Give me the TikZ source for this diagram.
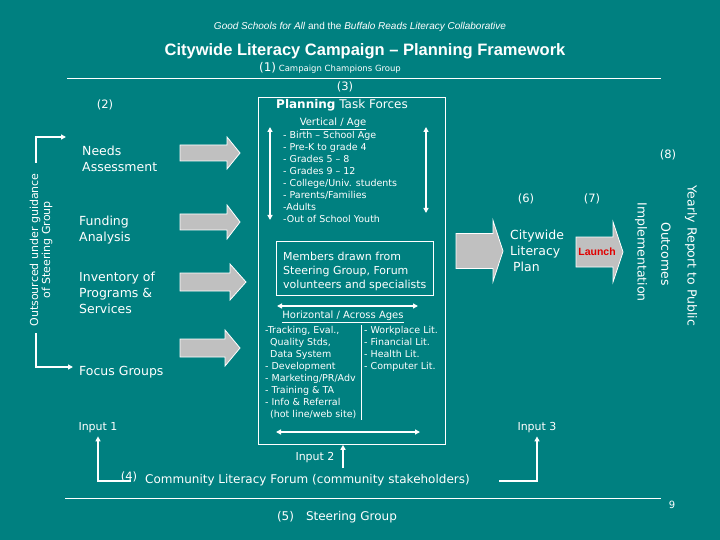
\documentclass[tikz,border=0pt]{standalone}
\usepackage{fontspec}
\setmainfont{DejaVu Sans}
\newfontfamily\arialfont{Liberation Sans}
\usetikzlibrary{arrows.meta}
\definecolor{slideteal}{RGB}{0,128,128}
\definecolor{blockgrey}{RGB}{192,192,192}
\definecolor{launchred}{RGB}{225,0,0}

% block arrow: tail x, head base x, tip x, centre y, body half, head half
\newcommand{\blockarrow}[6]{%
  \filldraw[fill=blockgrey, draw=white, line width=0.8pt]
    (#1,#4-#5) -- (#2,#4-#5) -- (#2,#4-#6) -- (#3,#4) -- (#2,#4+#6)
    -- (#2,#4+#5) -- (#1,#4+#5) -- cycle;}

\begin{document}
\begin{tikzpicture}[
    x=1pt, y=-1pt,
    >={Triangle[length=5pt, width=5pt]},
    txt/.style={text=white, inner sep=0pt},
    biglbl/.style={txt, font=\fontsize{12.5}{16}\selectfont, align=left},
    numlbl/.style={txt, font=\fontsize{11.5}{14}\selectfont},
    listlbl/.style={txt, font=\fontsize{9.5}{12}\selectfont, align=left, anchor=north west},
    wline/.style={white, line width=1.6pt},
    thinline/.style={white, line width=0.8pt}
]

% Background
\fill[slideteal] (0,0) rectangle (720,540);
\useasboundingbox (0,0) rectangle (720,540);

% Header
\node[txt, font=\arialfont\fontsize{10}{12}\selectfont] (sub) at (360,27)
  {\textit{Good Schools for All} and the \textit{Buffalo Reads Literacy Collaborative}};
\node[txt, font=\arialfont\bfseries\fontsize{16.5}{19}\selectfont] (title) at (365,51)
  {Citywide Literacy Campaign – Planning Framework};
\node[txt, font=\fontsize{8.5}{11}\selectfont] (champ) at (330,68)
  {{\fontsize{12}{14}\selectfont(1)} Campaign Champions Group};
\draw[thinline] (67,78) -- (661,78);

% Planning task forces box
\node[numlbl] (n3) at (345,87) {(3)};
\node[draw=white, line width=0.8pt, minimum width=187pt, minimum height=347pt,
      anchor=north west, inner sep=0pt] (tf) at (258,97) {};
\node[txt, font=\fontsize{12}{14}\selectfont] (tfhead) at (342,105)
  {\textbf{Planning} Task Forces};

% Vertical / Age
\node[txt, font=\fontsize{10}{12}\selectfont] (vhead) at (333,124) {\underline{Vertical / Age}};
\node[listlbl] (vlist) at (283,131) {%
  - Birth – School Age\\
  - Pre-K to grade 4\\
  - Grades 5 – 8\\
  - Grades 9 – 12\\
  - College/Univ. students\\
  - Parents/Families\\
  -Adults\\
  -Out of School Youth};
\draw[wline, <->] (270,127) -- (270,220);
\draw[wline, <->] (426,127) -- (426,213);

% Members box
\node[draw=white, line width=0.8pt, txt, inner sep=0pt, minimum width=157pt,
      minimum height=54pt] (members) at (354.5,268) {};
\node[txt, font=\fontsize{11}{14}\selectfont, align=left, anchor=west] (memtxt) at (283,271)
  {Members drawn from\\Steering Group, Forum\\volunteers and specialists};

% Horizontal / Across Ages
\draw[wline, <->] (277,306) -- (418,306);
\node[txt, font=\fontsize{10}{12}\selectfont] (hhead) at (343,317) {\underline{Horizontal / Across Ages}};
\node[listlbl] (hleft) at (265,326) {%
  -Tracking, Eval.,\\
  \hspace{5pt}Quality Stds,\\
  \hspace{5pt}Data System\\
  - Development\\
  - Marketing/PR/Adv\\
  - Training \& TA\\
  - Info \& Referral\\
  \hspace{5pt}(hot line/web site)};
\node[listlbl] (hright) at (364,326) {%
  - Workplace Lit.\\
  - Financial Lit.\\
  - Health Lit.\\
  - Computer Lit.};
\draw[thinline] (361,325) -- (361,420);
\draw[wline, <->] (276,432) -- (420,432);

% Left column
\node[numlbl] (n2) at (105,105) {(2)};
\node[txt, rotate=90, align=center, font=\fontsize{11}{12}\selectfont] (outsrc) at (41,250)
  {Outsourced under guidance\\of Steering Group};
\draw[wline, ->] (36,163) |- (66,137);
\draw[wline, ->] (36,333) |- (73,367);
\node[biglbl, anchor=west] (needs) at (82,159) {Needs\\Assessment};
\node[biglbl, anchor=west] (funding) at (79,230) {Funding\\Analysis};
\node[biglbl, anchor=west] (invent) at (79,293) {Inventory of\\Programs \&\\Services};
\node[biglbl, anchor=west] (focus) at (79,372) {Focus Groups};

\blockarrow{180}{227}{240}{153}{8}{16}
\blockarrow{180}{227}{240}{222}{8}{17}
\blockarrow{180}{230}{246}{282}{9}{18}
\blockarrow{180}{225}{240}{348}{9}{18}

% Right side
\blockarrow{456}{493}{503}{251}{17.5}{30.5}
\node[numlbl] (n6) at (526,199) {(6)};
\node[biglbl, anchor=west] (plan) at (510,251) {Citywide\\Literacy\\\hspace{3pt}Plan};
\node[numlbl] (n7) at (592,199) {(7)};
\blockarrow{576}{613}{623}{252}{15}{30}
\node[txt, text=launchred, font=\arialfont\bfseries\fontsize{10.5}{12}\selectfont] (launch) at (597,252) {Launch};
\node[biglbl, rotate=-90] (impl) at (641,252) {Implementation};
\node[biglbl, rotate=-90] (outc) at (666,254) {Outcomes};
\node[biglbl, rotate=-90] (yearly) at (691,256) {Yearly Report to Public};
\node[numlbl] (n8) at (668,155) {(8)};

% Inputs and forum
\node[txt, font=\fontsize{11}{13}\selectfont] (in1) at (98,428) {Input 1};
\node[txt, font=\fontsize{11}{13}\selectfont] (in3) at (537,428) {Input 3};
\node[txt, font=\fontsize{11}{13}\selectfont] (in2) at (315,458) {Input 2};
\node[numlbl] (n4) at (129,477) {(4)};
\node[txt, font=\fontsize{12}{14}\selectfont, anchor=west] (forum) at (145,480)
  {Community Literacy Forum (community stakeholders)};
\coordinate (fleft) at (131,481);
\coordinate (fright) at (499,481);
\coordinate (f2) at (343,468);
\draw[wline, ->] (fleft) -| ([yshift=-3pt]in1.south);
\draw[wline, ->] (fright) -| ([yshift=-3pt]in3.south);
\draw[wline, ->] (f2) -- (f2 |- tf.south);

% Steering group
\draw[thinline] (65,498) -- (661,498);
\node[txt, font=\fontsize{10}{12}\selectfont] (pagenum) at (672,505) {9};
\node[txt, font=\fontsize{12}{14}\selectfont] (steer) at (337,517) {(5)\quad Steering Group};

\end{tikzpicture}
\end{document}
